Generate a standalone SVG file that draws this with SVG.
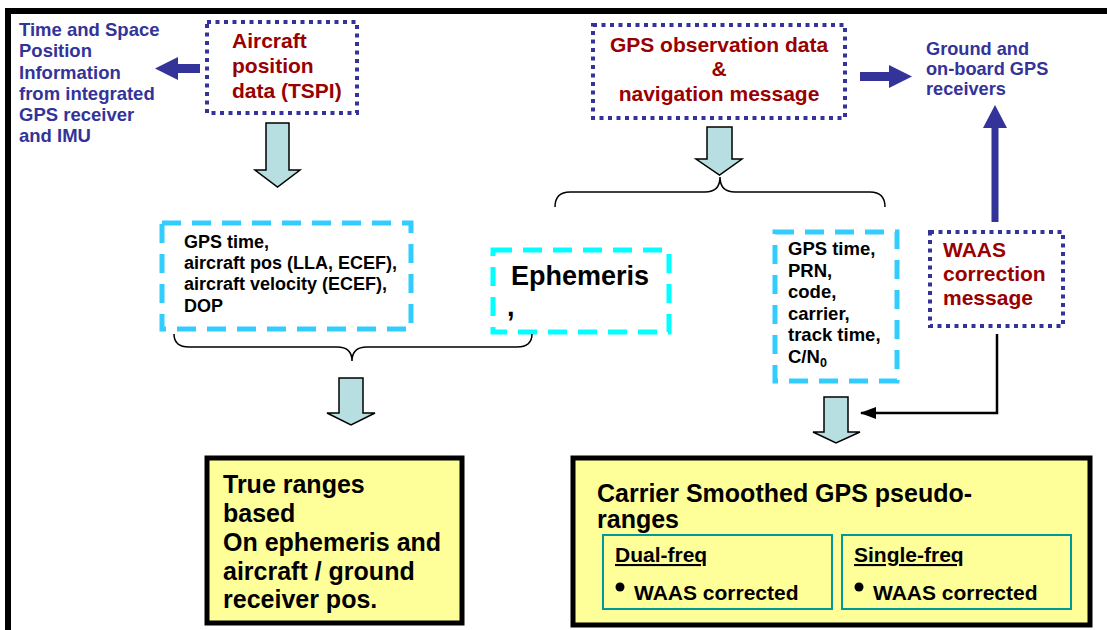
<svg xmlns="http://www.w3.org/2000/svg" width="1107" height="630" viewBox="0 0 1107 630">
<style>
text{font-family:"Liberation Sans",Arial,sans-serif;font-weight:bold}
.blue{fill:#333399}
.red{fill:#990000}
.blk{fill:#000}
.dot{fill:none;stroke:#333399;stroke-width:4;stroke-dasharray:4 4.5}
.cy{fill:none;stroke:#33CCFF;stroke-width:5;stroke-dasharray:19 11}
.aq{fill:none;stroke:#00FFFF;stroke-width:5;stroke-dasharray:19 11}
.blk-arrow{fill:#B7DFE2;stroke:#000;stroke-width:1.5;stroke-linejoin:miter}
.yel{fill:#FFFF99;stroke:#000;stroke-width:5}
.sub{fill:none;stroke:#009999;stroke-width:2}
.brace{fill:none;stroke:#000;stroke-width:1.5}
</style>
<defs>
<marker id="ah" markerWidth="16" markerHeight="12" refX="15" refY="6" orient="auto" markerUnits="userSpaceOnUse">
<path d="M0,0 L16,6 L0,12 Z" fill="#000"/>
</marker>
</defs>
<rect width="1107" height="630" fill="#fff"/>
<path d="M8,630 V11 H1107" fill="none" stroke="#000" stroke-width="6"/>

<g id="tspi-info">
<text class="blue" font-size="18.5" x="19" y="36">Time and Space</text>
<text class="blue" font-size="18.5" x="19" y="57">Position</text>
<text class="blue" font-size="18.5" x="19" y="79">Information</text>
<text class="blue" font-size="18.5" x="19" y="100">from integrated</text>
<text class="blue" font-size="18.5" x="19" y="121">GPS receiver</text>
<text class="blue" font-size="18.5" x="19" y="142">and IMU</text>
</g>

<g id="aircraft-pos">
<rect class="dot" x="207" y="22" width="150" height="91"/>
<text class="red" font-size="21" x="232" y="48">Aircraft</text>
<text class="red" font-size="21" x="232" y="73">position</text>
<text class="red" font-size="21" x="232" y="98">data (TSPI)</text>
</g>

<g id="gps-obs">
<rect class="dot" x="593" y="25" width="252" height="93"/>
<text class="red" font-size="21" x="719" y="52" text-anchor="middle">GPS observation data</text>
<text class="red" font-size="21" x="719" y="76" text-anchor="middle">&amp;</text>
<text class="red" font-size="21" x="719" y="101" text-anchor="middle">navigation message</text>
</g>

<g id="receivers">
<text class="blue" font-size="18.2" x="926" y="55">Ground and</text>
<text class="blue" font-size="18.2" x="926" y="75">on-board GPS</text>
<text class="blue" font-size="18.2" x="926" y="95">receivers</text>
</g>

<g id="left-data">
<rect class="cy" x="162" y="223" width="249" height="106"/>
<text class="blk" font-size="18" x="184" y="248">GPS time,</text>
<text class="blk" font-size="18" x="184" y="269">aircraft pos (LLA, ECEF),</text>
<text class="blk" font-size="18" x="184" y="290">aircraft velocity (ECEF),</text>
<text class="blk" font-size="18" x="184" y="312">DOP</text>
</g>

<g id="ephemeris">
<rect class="aq" x="493" y="250" width="176" height="82"/>
<text class="blk" font-size="27" x="511" y="285">Ephemeris</text>
<text class="blk" font-size="27" x="507" y="316">,</text>
</g>

<g id="obs-data">
<rect class="cy" x="775" y="232" width="122" height="149"/>
<text class="blk" font-size="18.5" x="788" y="255">GPS time,</text>
<text class="blk" font-size="18.5" x="788" y="277">PRN,</text>
<text class="blk" font-size="18.5" x="788" y="298">code,</text>
<text class="blk" font-size="18.5" x="788" y="320">carrier,</text>
<text class="blk" font-size="18.5" x="788" y="341">track time,</text>
<text class="blk" font-size="18.5" x="788" y="363">C/N<tspan font-size="12.5" dy="4">0</tspan></text>
</g>

<g id="waas">
<rect class="dot" x="930" y="232" width="133" height="94"/>
<text class="red" font-size="21" x="943" y="257">WAAS</text>
<text class="red" font-size="21" x="943" y="281">correction</text>
<text class="red" font-size="21" x="943" y="305">message</text>
</g>

<g id="true-ranges">
<rect class="yel" x="207" y="458" width="255" height="165"/>
<text class="blk" font-size="25" x="223" y="493">True ranges</text>
<text class="blk" font-size="25" x="223" y="522">based</text>
<text class="blk" font-size="25" x="223" y="551">On ephemeris and</text>
<text class="blk" font-size="25" x="223" y="580">aircraft / ground</text>
<text class="blk" font-size="25" x="223" y="608">receiver pos.</text>
</g>

<g id="pseudoranges">
<rect class="yel" x="573" y="458" width="517" height="167"/>
<text class="blk" font-size="25" x="597" y="502">Carrier Smoothed GPS pseudo-</text>
<text class="blk" font-size="25" x="597" y="528">ranges</text>
<g id="dual-freq">
<rect class="sub" x="603" y="535" width="229" height="74"/>
<text class="blk" font-size="21" x="615" y="562" text-decoration="underline">Dual-freq</text>
<circle cx="620" cy="587" r="4.5" fill="#000"/>
<text class="blk" font-size="21" x="634" y="600">WAAS corrected</text>
</g>
<g id="single-freq">
<rect class="sub" x="842" y="535" width="229" height="74"/>
<text class="blk" font-size="21" x="854" y="562" text-decoration="underline">Single-freq</text>
<circle cx="859" cy="587" r="4.5" fill="#000"/>
<text class="blk" font-size="21" x="873" y="600">WAAS corrected</text>
</g>
</g>

<g id="connectors">
<polygon fill="#333399" points="200,64 178,64 178,57 155,68.5 178,80 178,73 200,73"/>
<polygon fill="#333399" points="860,72 889,72 889,65 912,76.5 889,88 889,81 860,81"/>
<polygon fill="#333399" points="991.5,222 991.5,128 983,128 995,105 1007,128 998.5,128 998.5,222"/>
<polygon class="blk-arrow" points="266,123 289,123 289,170 300,170 277.5,187 255,170 266,170"/>
<polygon class="blk-arrow" points="707,127 732,127 732,159 742,159 719.5,175 696,159 707,159"/>
<polygon class="blk-arrow" points="339,378 363,378 363,413 375,413 351,425 327,413 339,413"/>
<polygon class="blk-arrow" points="824,397 848,397 848,432 860,432 836,443 813,432 824,432"/>
<path class="brace" d="M555,207 Q555,192 570,192 H705 Q720,192 720,177 Q720,192 735,192 H870 Q885,192 885,207"/>
<path class="brace" d="M174,334 Q174,347 189,347 H337 Q352,347 352,361 Q352,347 367,347 H517 Q532,347 532,334"/>
<path d="M997,334 V413 H861" fill="none" stroke="#000" stroke-width="2.5" marker-end="url(#ah)"/>
</g>
</svg>
